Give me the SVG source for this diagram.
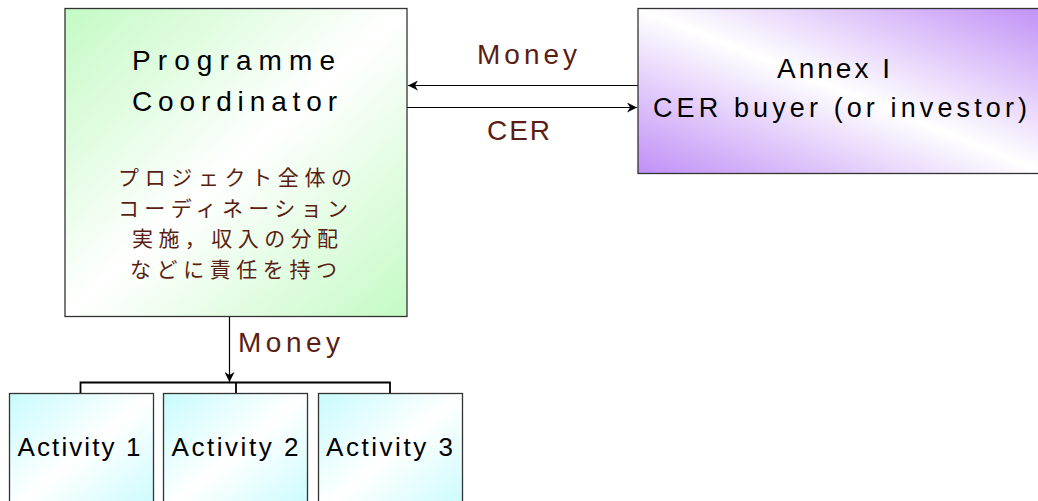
<svg xmlns="http://www.w3.org/2000/svg" width="1038" height="501" viewBox="0 0 1038 501">
  <style>
    .box { stroke: #333; stroke-width: 1.3; }
    .wire { stroke: #000; stroke-width: 1.2; fill: none; }
    .lat { font-family: "Liberation Sans", Arial, sans-serif; fill: #000; }
    .lbl { font-family: "Liberation Sans", Arial, sans-serif; fill: #5a1e14; font-size: 28px; }
    .jp { font-family: "Noto Sans CJK JP", "Noto Sans", sans-serif; fill: #5a1e14; font-size: 21px; }
  </style>
  <defs>
    <linearGradient id="gGreen" x1="0" y1="0" x2="1" y2="1">
      <stop offset="0" stop-color="#c4fac4"/>
      <stop offset="0.5" stop-color="#ffffff"/>
      <stop offset="1" stop-color="#c4fac4"/>
    </linearGradient>
    <linearGradient id="gPurple" x1="1" y1="0" x2="0" y2="1">
      <stop offset="0" stop-color="#c08ff6"/>
      <stop offset="0.5" stop-color="#ffffff"/>
      <stop offset="1" stop-color="#c08ff6"/>
    </linearGradient>
    <linearGradient id="gCyan" x1="0" y1="0" x2="1" y2="1">
      <stop offset="0" stop-color="#c8fbfd"/>
      <stop offset="0.5" stop-color="#ffffff"/>
      <stop offset="1" stop-color="#c8fbfd"/>
    </linearGradient>
    <marker id="arrow" viewBox="0 0 10 10" refX="10" refY="5" markerWidth="10" markerHeight="10" markerUnits="userSpaceOnUse" orient="auto">
      <path d="M0,0 L10,5 L0,10 L3,5 Z" fill="#000"/>
    </marker>
  </defs>

  <!-- connectors -->
  <g id="connectors">
    <line class="wire" x1="638" y1="85.5" x2="408" y2="85.5" marker-end="url(#arrow)"/>
    <line class="wire" x1="407" y1="107.5" x2="637" y2="107.5" marker-end="url(#arrow)"/>
    <line class="wire" x1="229.5" y1="317" x2="229.5" y2="382" marker-end="url(#arrow)"/>
    <path d="M80.5,393 V382.5 H390 V393 M236,382.5 V393" fill="none" stroke="#000" stroke-width="1.8"/>
    <text class="lbl" x="527" y="63.5" text-anchor="middle" textLength="100" lengthAdjust="spacing">Money</text>
    <text class="lbl" x="518.5" y="140" text-anchor="middle" textLength="63" lengthAdjust="spacing">CER</text>
    <text class="lbl" x="238" y="352" textLength="102" lengthAdjust="spacing">Money</text>
  </g>

  <!-- programme coordinator -->
  <g id="coordinator">
    <rect class="box" x="65" y="8.5" width="342" height="308" fill="url(#gGreen)"/>
    <text class="lat" font-size="28" x="132" y="69.5" textLength="203" lengthAdjust="spacing">Programme</text>
    <text class="lat" font-size="28" x="132" y="110.5" textLength="205" lengthAdjust="spacing">Coordinator</text>
    <text class="jp" x="118" y="185" textLength="234" lengthAdjust="spacing">プロジェクト全体の</text>
    <text class="jp" x="118" y="215.5" textLength="230" lengthAdjust="spacing">コーディネーション</text>
    <text class="jp" x="132" y="246" textLength="206" lengthAdjust="spacing">実施，収入の分配</text>
    <text class="jp" x="130" y="276.5" textLength="207" lengthAdjust="spacing">などに責任を持つ</text>
  </g>

  <!-- annex I buyer -->
  <g id="buyer">
    <rect class="box" x="638" y="8.5" width="410" height="165" fill="url(#gPurple)"/>
    <text class="lat" font-size="28" x="777" y="77.5" textLength="113" lengthAdjust="spacing">Annex I</text>
    <text class="lat" font-size="27" x="653" y="117" textLength="374" lengthAdjust="spacing">CER buyer (or investor)</text>
  </g>

  <!-- activities -->
  <g id="activity1">
    <rect class="box" x="9.5" y="393.5" width="144" height="120" fill="url(#gCyan)"/>
    <text class="lat" font-size="26" x="17.5" y="456" textLength="123" lengthAdjust="spacing">Activity 1</text>
  </g>
  <g id="activity2">
    <rect class="box" x="163.5" y="393.5" width="144" height="120" fill="url(#gCyan)"/>
    <text class="lat" font-size="26" x="171.5" y="456" textLength="127" lengthAdjust="spacing">Activity 2</text>
  </g>
  <g id="activity3">
    <rect class="box" x="318.5" y="393.5" width="144" height="120" fill="url(#gCyan)"/>
    <text class="lat" font-size="26" x="326" y="456" textLength="127" lengthAdjust="spacing">Activity 3</text>
  </g>
</svg>
